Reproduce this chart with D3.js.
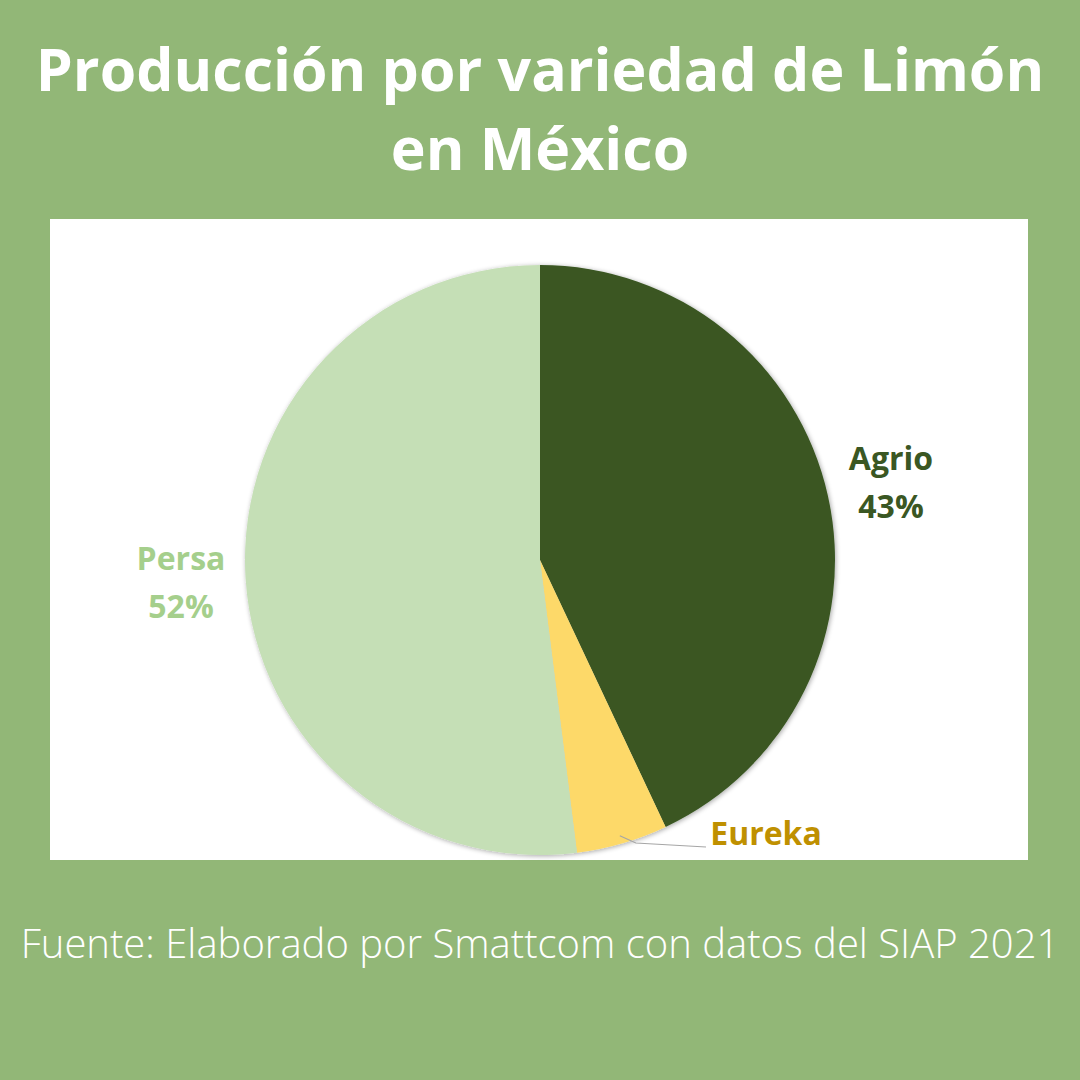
<!DOCTYPE html>
<html><head><meta charset="utf-8">
<script src="https://cdn.jsdelivr.net/npm/d3@7"></script>
<style>body{margin:0;background:#92b777;}svg{display:block;}</style>
</head><body>
<svg id="c" width="1080" height="1080"></svg>
<script>
const categories = ["Agrio", "Eureka", "Persa"];
const values = [43, 5, 52];
const labels = ["Agrio\n43%", "Eureka", "Persa\n52%"];
const colors = ["#3a5723", "#fdd969", "#c5dfb6"];
const labelColors = ["#3a5723", "#bf9000", "#a5cf8c"];

const svg = d3.select("#c");
svg.append("rect").attr("width",1080).attr("height",1080).attr("fill","#92b777");
const defs = svg.append("defs");
const f = defs.append("filter").attr("id","sh").attr("x","-10%").attr("y","-10%").attr("width","120%").attr("height","120%");
f.append("feGaussianBlur").attr("in","SourceAlpha").attr("stdDeviation",2.5).attr("result","b");
f.append("feOffset").attr("in","b").attr("dx",1).attr("dy",1).attr("result","o");
f.append("feComponentTransfer").attr("in","o").attr("result","o2").append("feFuncA").attr("type","linear").attr("slope",0.35);
const m = f.append("feMerge"); m.append("feMergeNode").attr("in","o2"); m.append("feMergeNode").attr("in","SourceGraphic");

// title
const title = svg.append("text").attr("text-anchor","middle").attr("fill","#ffffff")
  .style("font-family","'Open Sans'").style("font-weight",700).style("font-size","59px");
title.append("tspan").attr("x",540).attr("y",91).text("Producción por variedad de Limón");
title.append("tspan").attr("x",540).attr("y",170).text("en México");

// panel
svg.append("rect").attr("x",50).attr("y",219).attr("width",978).attr("height",641).attr("fill","#ffffff");

const cx = 540, cy = 560, r = 295;
const pie = d3.pie().sort(null).value(d => d)(values);
const arc = d3.arc().innerRadius(0).outerRadius(r);
const g = svg.append("g").attr("transform",`translate(${cx},${cy})`);
g.append("g").attr("filter","url(#sh)").selectAll("path").data(pie).join("path")
  .attr("d",arc).attr("fill",(d,i)=>colors[i]);

// leader line for Eureka
const e = pie[1];
const ma = (e.startAngle + e.endAngle)/2;
const lx0 = cx + Math.sin(ma)*r*0.97, ly0 = cy - Math.cos(ma)*r*0.97;
svg.append("polyline").attr("points",`${lx0},${ly0+1} ${lx0+16},${cy+283} ${706},${cy+287}`)
  .attr("fill","none").attr("stroke","#a6a6a6").attr("stroke-width",1.2);

const labelPos = [[891,470],[766,845],[181,570]];
labels.forEach((t,i)=>{
  const lines = t.split("\n");
  const tx = svg.append("text").attr("text-anchor","middle").attr("fill",labelColors[i])
    .style("font-family","'Open Sans'").style("font-weight",700).style("font-size","32px");
  lines.forEach((l,j)=>tx.append("tspan").attr("x",labelPos[i][0]).attr("y",labelPos[i][1]+j*48).text(l));
});

svg.append("text").attr("x",540).attr("y",958).attr("text-anchor","middle").attr("fill","#ffffff")
  .style("font-family","'Open Sans'").style("font-weight",300).style("font-size","40px")
  .text("Fuente: Elaborado por Smattcom con datos del SIAP 2021");
</script>
</body></html>
